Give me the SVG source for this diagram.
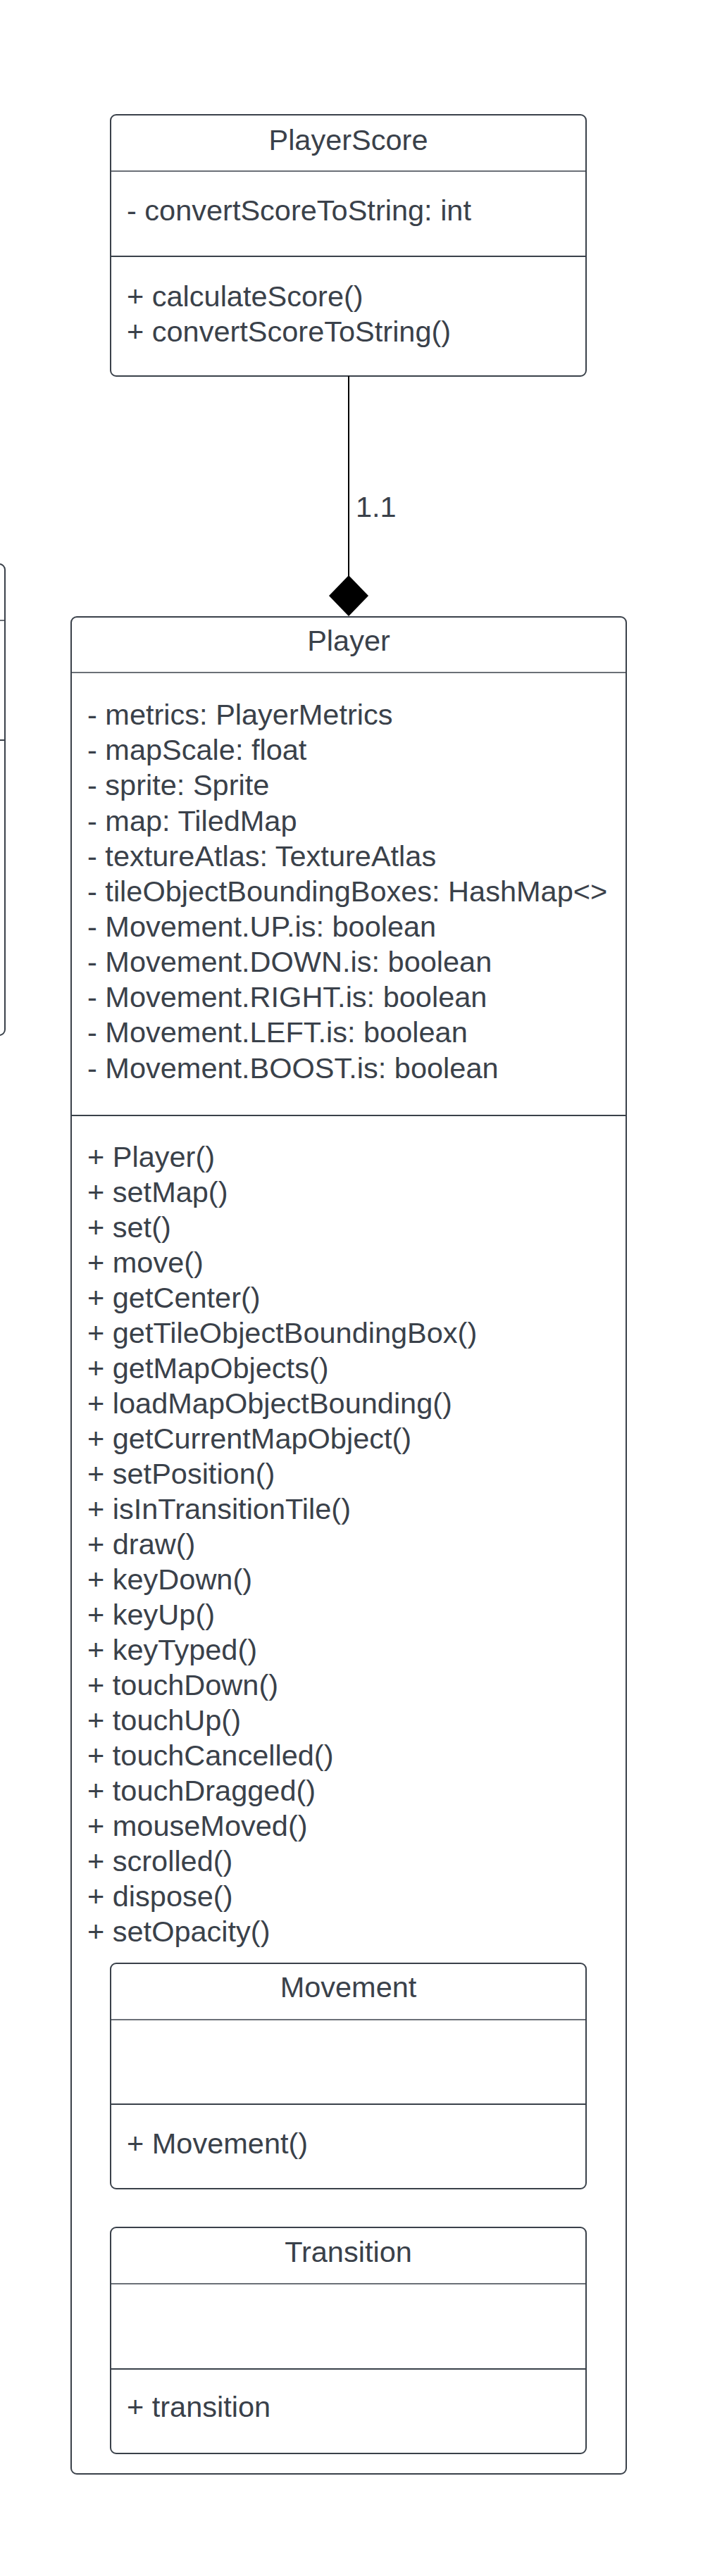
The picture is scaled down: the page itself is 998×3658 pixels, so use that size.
<svg xmlns="http://www.w3.org/2000/svg" width="998" height="3658" viewBox="0 0 998 3658">
<style>
  .box { fill: #ffffff; stroke: #3a414a; stroke-width: 2; }
  .div1 { stroke: #3a414a; stroke-width: 1.5; }
  .div2 { stroke: #3a414a; stroke-width: 2; }
  text { font-family: "Liberation Sans", Arial, sans-serif; font-size: 41.5px; fill: #3a414a; }
  .title { text-anchor: middle; }
  .conn { stroke: #000000; stroke-width: 2; fill: none; }
</style>
<rect x="0" y="0" width="998" height="3658" fill="#ffffff"/>

<g id="left-partial">
  <rect class="box" x="-700" y="801" width="707" height="669" rx="8"/>
  <line class="div1" x1="0" y1="881" x2="7" y2="881"/>
  <line class="div2" x1="0" y1="1051" x2="7" y2="1051"/>
</g>

<g id="PlayerScore">
  <rect class="box" x="157" y="163" width="675" height="371" rx="8"/>
  <line class="div1" x1="157" y1="243" x2="832" y2="243"/>
  <line class="div2" x1="157" y1="364" x2="832" y2="364"/>
  <text class="title" x="494.5" y="213">PlayerScore</text>
  <text x="180" y="313">- convertScoreToString: int</text>
  <text x="180" y="435">+ calculateScore()</text>
  <text x="180" y="485">+ convertScoreToString()</text>
</g>

<g id="Player">
  <rect class="box" x="101" y="876" width="788" height="2637" rx="8"/>
  <line class="div1" x1="101" y1="955" x2="889" y2="955"/>
  <line class="div2" x1="101" y1="1584" x2="889" y2="1584"/>
  <text class="title" x="495" y="924">Player</text>
  <text x="124" y="1029">- metrics: PlayerMetrics</text>
  <text x="124" y="1079">- mapScale: float</text>
  <text x="124" y="1129">- sprite: Sprite</text>
  <text x="124" y="1180">- map: TiledMap</text>
  <text x="124" y="1230">- textureAtlas: TextureAtlas</text>
  <text x="124" y="1280">- tileObjectBoundingBoxes: HashMap&lt;&gt;</text>
  <text x="124" y="1330">- Movement.UP.is: boolean</text>
  <text x="124" y="1380">- Movement.DOWN.is: boolean</text>
  <text x="124" y="1430">- Movement.RIGHT.is: boolean</text>
  <text x="124" y="1480">- Movement.LEFT.is: boolean</text>
  <text x="124" y="1531">- Movement.BOOST.is: boolean</text>
  <text x="124" y="1657">+ Player()</text>
  <text x="124" y="1707">+ setMap()</text>
  <text x="124" y="1757">+ set()</text>
  <text x="124" y="1807">+ move()</text>
  <text x="124" y="1857">+ getCenter()</text>
  <text x="124" y="1907">+ getTileObjectBoundingBox()</text>
  <text x="124" y="1957">+ getMapObjects()</text>
  <text x="124" y="2007">+ loadMapObjectBounding()</text>
  <text x="124" y="2057">+ getCurrentMapObject()</text>
  <text x="124" y="2107">+ setPosition()</text>
  <text x="124" y="2157">+ isInTransitionTile()</text>
  <text x="124" y="2207">+ draw()</text>
  <text x="124" y="2257">+ keyDown()</text>
  <text x="124" y="2307">+ keyUp()</text>
  <text x="124" y="2357">+ keyTyped()</text>
  <text x="124" y="2407">+ touchDown()</text>
  <text x="124" y="2457">+ touchUp()</text>
  <text x="124" y="2507">+ touchCancelled()</text>
  <text x="124" y="2557">+ touchDragged()</text>
  <text x="124" y="2607">+ mouseMoved()</text>
  <text x="124" y="2657">+ scrolled()</text>
  <text x="124" y="2707">+ dispose()</text>
  <text x="124" y="2757">+ setOpacity()</text>
</g>

<g id="Movement">
  <rect class="box" x="157" y="2788" width="675" height="320" rx="8"/>
  <line class="div1" x1="157" y1="2868" x2="832" y2="2868"/>
  <line class="div2" x1="157" y1="2988" x2="832" y2="2988"/>
  <text class="title" x="494.5" y="2836">Movement</text>
  <text x="180" y="3058">+ Movement()</text>
</g>

<g id="Transition">
  <rect class="box" x="157" y="3163" width="675" height="321" rx="8"/>
  <line class="div1" x1="157" y1="3243" x2="832" y2="3243"/>
  <line class="div2" x1="157" y1="3364" x2="832" y2="3364"/>
  <text class="title" x="494.5" y="3212">Transition</text>
  <text x="180" y="3432">+ transition</text>
</g>

<g id="connectors">
  <line class="conn" x1="495" y1="534" x2="495" y2="818"/>
  <polygon points="495,817 523,846 495,875 467,846" fill="#000000"/>
  <text x="505" y="734">1.1</text>
</g>
</svg>
